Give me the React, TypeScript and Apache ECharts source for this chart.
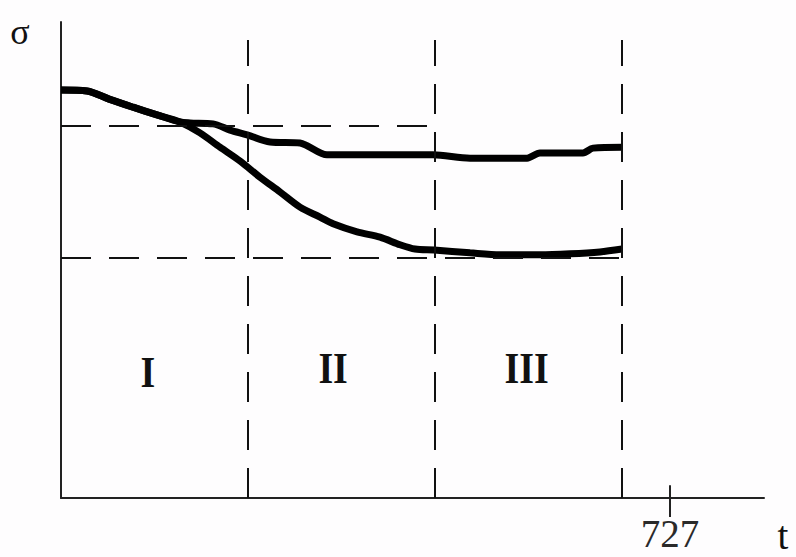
import React, { useEffect, useRef } from "react";
import * as echarts from "echarts";

// Data (x: time in stage units, stage width = 10; y: stress σ in relative units 0..100)
const curveAx = [0, 1.39, 2.57, 3.85, 5.13, 6.36, 7.43, 8.5, 9.57, 10.64, 11.71, 12.78, 13.85, 14.55, 15.83, 17.06, 18.13, 18.93, 19.95, 21.87, 23.48, 25.61, 27.22, 28.82, 30.0];
const curveAy = [85.7, 85.5, 83.8, 82.1, 80.5, 79.0, 76.7, 73.7, 70.8, 67.4, 64.3, 61.1, 59.0, 57.6, 55.9, 54.8, 53.2, 52.3, 52.1, 51.5, 51.1, 51.1, 51.3, 51.7, 52.3];
const curveBx = [0, 1.39, 2.57, 3.85, 5.13, 6.36, 6.9, 8.13, 9.04, 9.95, 11.18, 12.78, 13.16, 14.22, 15.99, 19.89, 21.87, 24.92, 25.61, 27.91, 28.45, 30.0];
const curveBy = [85.7, 85.5, 83.8, 82.1, 80.5, 79.0, 78.8, 78.6, 77.3, 76.3, 74.8, 74.6, 74.0, 72.1, 72.1, 72.1, 71.4, 71.4, 72.5, 72.5, 73.5, 73.7];
const stageBounds = [10, 20, 30];
const stageLabels = ["I", "II", "III"];
const stageLabelX = [4.65, 14.55, 24.9];
const stageLabelY = [26.5, 27.3, 27.3];
const levelHigh = 78.2;
const levelLow = 50.4;
const levelHighEnd = 20;
const levelLowEnd = 30;
const dashTop = 96.2;
const tickValues = [32.57];
const tickLabels = ["727"];
const xMax = 37.59;
const yMax = 100;

export default function App() {
  const ref = useRef<HTMLDivElement>(null);
  useEffect(() => {
    if (!ref.current) return;
    const chart = echarts.init(ref.current, null, { renderer: "svg" });
    const serif = "'Liberation Serif', 'Times New Roman', serif";
    const dash = { type: [30, 18] as any, width: 2, color: "#111" };
    const markData: any[] = [];
    stageBounds.forEach((b) => {
      markData.push([{ coord: [b, 0], lineStyle: dash }, { coord: [b, dashTop] }]);
    });
    markData.push([{ coord: [0, levelHigh], lineStyle: dash }, { coord: [levelHighEnd, levelHigh] }]);
    markData.push([{ coord: [0, levelLow], lineStyle: dash }, { coord: [levelLowEnd, levelLow] }]);
    tickValues.forEach((t) => {
      markData.push([
        { coord: [t, 0], lineStyle: { type: "solid", width: 2, color: "#222" } },
        { coord: [t, 2.7] },
      ]);
    });
    chart.setOption({
      animation: false,
      backgroundColor: "#fefdfe",
      grid: { left: 61, right: 32, top: 22, bottom: 59 },
      xAxis: {
        type: "value",
        min: 0,
        max: xMax,
        axisLine: { show: true, onZero: false, lineStyle: { color: "#222", width: 2 } },
        axisTick: {
          show: true,
          customValues: tickValues,
          length: 19,
          lineStyle: { color: "#222", width: 2 },
        },
        axisLabel: {
          show: true,
          customValues: tickValues,
          formatter: (v: number) => {
            const i = tickValues.findIndex((t) => Math.abs(t - v) < 1e-6);
            return i >= 0 ? tickLabels[i] : "";
          },
          fontFamily: serif,
          fontSize: 39,
          lineHeight: 39,
          color: "#2a2a2a",
          margin: 16,
        },
        splitLine: { show: false },
      },
      yAxis: {
        type: "value",
        min: 0,
        max: yMax,
        axisLine: { show: true, onZero: false, lineStyle: { color: "#222", width: 2 } },
        axisTick: { show: false },
        axisLabel: { show: false },
        splitLine: { show: false },
      },
      series: [
        {
          type: "line",
          data: curveAx.map((x, i) => [x, curveAy[i]]),
          showSymbol: false,
          smooth: 0.3,
          lineStyle: { color: "#000", width: 7 },
          markLine: {
            silent: true,
            symbol: "none",
            label: { show: false },
            data: markData,
          },
          z: 3,
        },
        {
          type: "line",
          data: curveBx.map((x, i) => [x, curveBy[i]]),
          showSymbol: false,
          smooth: 0.3,
          lineStyle: { color: "#000", width: 7 },
          z: 3,
        },
      ],
    });
    const romanGraphics = stageLabels.map((txt, i) => {
      const p = chart.convertToPixel({ gridIndex: 0 }, [stageLabelX[i], stageLabelY[i]]) as number[];
      return {
        type: "text",
        x: p[0],
        y: p[1],
        scaleX: 0.86,
        style: {
          text: txt,
          fontFamily: serif,
          fontWeight: "bold",
          fontSize: 44,
          fill: "#111",
          align: "center",
          verticalAlign: "middle",
        },
      };
    });
    chart.setOption({
      graphic: [
        ...romanGraphics,
        {
          type: "text",
          x: 20,
          y: 32,
          style: {
            text: "σ",
            fontFamily: serif,
            fontSize: 36,
            fill: "#111",
            align: "center",
            verticalAlign: "middle",
          },
        },
        {
          type: "text",
          x: 783,
          y: 535,
          style: {
            text: "t",
            fontFamily: serif,
            fontSize: 39,
            fill: "#111",
            align: "center",
            verticalAlign: "middle",
          },
        },
      ],
    });
    return () => chart.dispose();
  }, []);
  return (
    <div
      ref={ref}
      style={{ position: "fixed", left: 0, top: 0, width: 796, height: 557 }}
    />
  );
}
